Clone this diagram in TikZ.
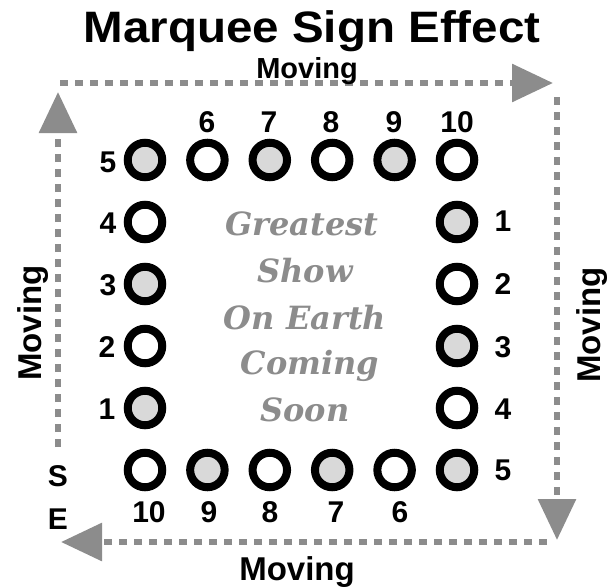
\documentclass[tikz,border=0pt]{standalone}
\usepackage{fontspec}
\usepackage{graphicx}
\setmainfont{Liberation Sans}
\newfontfamily\showfont{DejaVu Serif}
\usetikzlibrary{arrows.meta}
\definecolor{dashgray}{RGB}{140,140,140}
\definecolor{bulbfill}{RGB}{217,217,217}
\begin{document}
\begin{tikzpicture}[x=1pt,y=-1pt,
  bulb/.style={circle, draw=black, line width=8pt, minimum size=34.5pt, inner sep=0pt},
  lit/.style={bulb, fill=bulbfill},
  unlit/.style={bulb, fill=white},
  num/.style={font=\fontsize{30}{32}\selectfont\bfseries, inner sep=0pt, anchor=center},
  mov/.style={font=\fontsize{33}{35}\selectfont\bfseries, inner sep=0pt, anchor=base},
  sign/.style={font=\showfont\fontsize{32}{34}\selectfont\bfseries\itshape, text=dashgray, inner sep=0pt, anchor=base},
  track/.style={draw=dashgray, line width=6pt, dash pattern=on 8pt off 7pt, -{Triangle[width=37pt,length=41pt]}}
]
\useasboundingbox[fill=white] (0,0) rectangle (615,586);

% title
\node[font=\fontsize{44}{48}\selectfont\bfseries, anchor=base, inner sep=0pt] (title) at (312,42) {\scalebox{1.08}[1]{Marquee Sign Effect}};

% tracks
\coordinate (topS) at (60,83);
\coordinate (topE) at (553,83);
\coordinate (rgtS) at (557,97);
\coordinate (rgtE) at (557,540);
\coordinate (botS) at (547,542);
\coordinate (botE) at (61,542);
\coordinate (lftS) at (58,447);
\coordinate (lftE) at (58,92);
\draw[track] (topS) -- (topE);
\draw[track] (rgtS) -- (rgtE);
\draw[track] (botS) -- (botE);
\draw[track] (lftS) -- (lftE);

\node[mov, font=\fontsize{29}{31}\selectfont\bfseries] (movT) at (307,78) {Moving};
\node[mov] (movB) at (297,580) {Moving};
\node[mov, rotate=90] (movL) at (41,323) {Moving};
\node[mov, rotate=90] (movR) at (600,325) {Moving};

% top row
\node[lit]   (t5)  at (145,160) {};
\node[unlit] (t6)  at (207.4,160) {};
\node[lit]   (t7)  at (269.8,160) {};
\node[unlit] (t8)  at (332.2,160) {};
\node[lit]   (t9)  at (394.6,160) {};
\node[unlit] (t10) at (457,160) {};
% left column
\node[unlit] (l4) at (145,222) {};
\node[lit]   (l3) at (145,284) {};
\node[unlit] (l2) at (145,346) {};
\node[lit]   (l1) at (145,408) {};
% right column
\node[lit]   (r1) at (457,222) {};
\node[unlit] (r2) at (457,284) {};
\node[lit]   (r3) at (457,346) {};
\node[unlit] (r4) at (457,408) {};
\node[lit]   (r5) at (457,470) {};
% bottom row
\node[unlit] (b10) at (145,470) {};
\node[lit]   (b9)  at (207.4,470) {};
\node[unlit] (b8)  at (269.8,470) {};
\node[lit]   (b7)  at (332.2,470) {};
\node[unlit] (b6)  at (394.6,470) {};

% numbers
\node[num] (nt6)  at (207,122) {6};
\node[num] (nt7)  at (269,122) {7};
\node[num] (nt8)  at (331,122) {8};
\node[num] (nt9)  at (394,122) {9};
\node[num] (nt10) at (457,122) {10};
\node[num] (nl5) at (108,162) {5};
\node[num] (nl4) at (108,223) {4};
\node[num] (nl3) at (108,285) {3};
\node[num] (nl2) at (107,347) {2};
\node[num] (nl1) at (107,409) {1};
\node[num] (nr1) at (503,221) {1};
\node[num] (nr2) at (503,284) {2};
\node[num] (nr3) at (503,347) {3};
\node[num] (nr4) at (503,409) {4};
\node[num] (nr5) at (503,470) {5};
\node[num] (nb10) at (149,512) {10};
\node[num] (nb9)  at (209,512) {9};
\node[num] (nb8)  at (270,512) {8};
\node[num] (nb7)  at (336,512) {7};
\node[num] (nb6)  at (400,512) {6};
\node[num] (nS) at (58,476) {S};
\node[num] (nE) at (58,519) {E};

% sign text
\node[sign] (g1) at (302,235) {Greatest};
\node[sign] (g2) at (305,282) {Show};
\node[sign] (g3) at (305,329) {On Earth};
\node[sign] (g4) at (310,374) {Coming};
\node[sign] (g5) at (305,421) {Soon};
\end{tikzpicture}
\end{document}
